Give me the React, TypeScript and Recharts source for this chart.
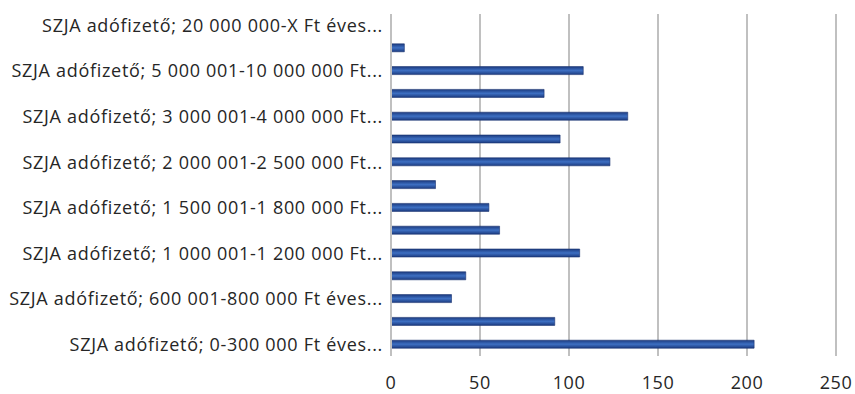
import React from "react";
import { BarChart, Bar, XAxis, YAxis, CartesianGrid } from "recharts";

// categories top to bottom (Excel draws the first category at the bottom)
const categories = [
  "SZJA adófizető; 20 000 000-X Ft éves...",
  "SZJA adófizető; 10 000 001-20 000 000 Ft...",
  "SZJA adófizető; 5 000 001-10 000 000 Ft...",
  "SZJA adófizető; 4 000 001-5 000 000 Ft...",
  "SZJA adófizető; 3 000 001-4 000 000 Ft...",
  "SZJA adófizető; 2 500 001-3 000 000 Ft...",
  "SZJA adófizető; 2 000 001-2 500 000 Ft...",
  "SZJA adófizető; 1 800 001-2 000 000 Ft...",
  "SZJA adófizető; 1 500 001-1 800 000 Ft...",
  "SZJA adófizető; 1 200 001-1 500 000 Ft...",
  "SZJA adófizető; 1 000 001-1 200 000 Ft...",
  "SZJA adófizető; 800 001-1 000 000 Ft éves...",
  "SZJA adófizető; 600 001-800 000 Ft éves...",
  "SZJA adófizető; 300 001-600 000 Ft éves...",
  "SZJA adófizető; 0-300 000 Ft éves...",
];

const values = [0, 7.5, 108, 86, 133, 95, 123, 25, 55, 61, 106, 42, 34, 92, 204];

const xTicks = [0, 50, 100, 150, 200, 250];

const data = categories.map((name, i) => ({ name, value: values[i] }));

const font = "'Open Sans', sans-serif";

export default function App() {
  return (
    <div style={{ position: "absolute", left: 0, top: 0, background: "#fff" }}>
      <BarChart
        width={855}
        height={394}
        data={data}
        layout="vertical"
        margin={{ top: 14, right: 19, left: 0, bottom: 0 }}
        barCategoryGap={0}
      >
        <defs>
          <linearGradient id="barFill" x1="0" y1="0" x2="0" y2="1">
            <stop offset="0%" stopColor="#1c3b80" />
            <stop offset="50%" stopColor="#3d6fc2" />
            <stop offset="100%" stopColor="#1c3b80" />
          </linearGradient>
        </defs>
        <CartesianGrid horizontal={false} stroke="#c0c0c0" strokeWidth={2} />
        <XAxis
          type="number"
          domain={[0, 250]}
          ticks={xTicks}
          axisLine={false}
          tickLine={false}
          tickMargin={14}
          height={38}
          tick={{ fill: "#262626", fontSize: 18, fontFamily: font, letterSpacing: 0.6 }}
        />
        <YAxis
          type="category"
          dataKey="name"
          width={391}
          interval={1}
          axisLine={{ stroke: "#c0c0c0", strokeWidth: 2 }}
          tickLine={false}
          tick={{ fill: "#262626", fontSize: 18, fontFamily: font, letterSpacing: 0.7 }}
        />
        <Bar
          dataKey="value"
          fill="url(#barFill)"
          stroke="#1a3370"
          strokeWidth={0.6}
          barSize={8}
          isAnimationActive={false}
        />
      </BarChart>
    </div>
  );
}
